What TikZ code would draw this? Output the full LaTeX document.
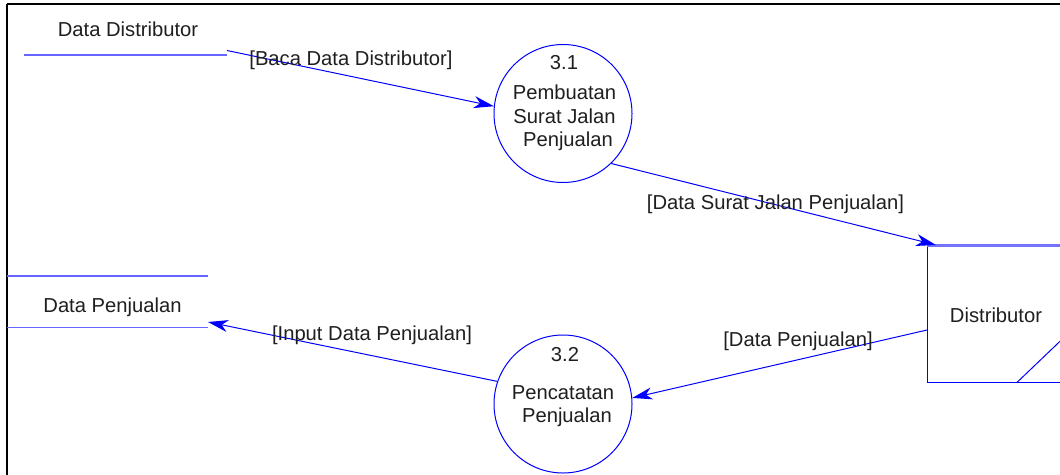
\documentclass[tikz,border=0pt]{standalone}
\usepackage{fontspec}
\setmainfont{Liberation Sans}
\usetikzlibrary{arrows.meta,calc}

\begin{document}
\begin{tikzpicture}[x=1pt,y=-1pt,
  txt/.style={font=\fontsize{20.2}{24}\selectfont, inner sep=0pt, text=black!88, anchor=base},
  flow/.style={draw=blue, line width=1pt, -{Stealth[length=20pt,width=12pt,inset=6pt]}},
  proc/.style={circle, draw=blue, line width=1pt, minimum size=138pt, inner sep=0pt},
  storeline/.style={draw=blue!60, line width=1.5pt},
  entity/.style={draw=none, minimum width=173pt, minimum height=137pt, inner sep=0pt, anchor=north west},
  frameline/.style={draw=black, line width=1.7pt}]
\useasboundingbox (0,0) rectangle (1060,474);
\clip (0,0) rectangle (1060,474);
\fill[white] (0,0) rectangle (1060,474);

% page frame (top and left edges)
\draw[frameline] (7,4.2) -- (1062,4.2);
\draw[frameline] (6.8,4.2) -- (6.8,476);

% data store: Data Distributor
\node[txt] (dsDist) at (128,36.5) {Data Distributor};
\coordinate (dsDistL) at (24,55);
\coordinate (dsDistR) at (227,55);
\draw[storeline] (dsDistL) -- (dsDistR);
\coordinate (dsDistOut) at (227,50.5);

% data store: Data Penjualan
\node[txt] (dsJual) at (112.5,312) {Data Penjualan};
\coordinate (dsJualTL) at (7,276);
\coordinate (dsJualTR) at (208,276);
\coordinate (dsJualBL) at (7,327.5);
\coordinate (dsJualBR) at (208,327.5);
\draw[storeline] (dsJualTL) -- (dsJualTR);
\draw[storeline] (dsJualBL) -- (dsJualBR);
\coordinate (dsJualIn) at (208,322);

% process 3.1
\node[proc] (p31) at (563,113.5) {};
\node[txt] (p31n) at (564,69) {3.1};
\node[txt] (p31a) at (564.5,99) {Pembuatan};
\node[txt] (p31b) at (564.5,123) {Surat Jalan};
\node[txt] (p31c) at (568,146) {Penjualan};

% process 3.2
\node[proc] (p32) at (563,404) {};
\node[txt] (p32n) at (565,361) {3.2};
\node[txt] (p32a) at (563,399) {Pencatatan};
\node[txt] (p32b) at (567,422) {Penjualan};

% external entity: Distributor
\node[entity] (dist) at (927,245) {};
\draw[draw=blue, line width=1pt] (dist.north west) -- (dist.south west) -- (dist.south east);
\draw[draw=blue!55, line width=3pt] (dist.north west) -- (dist.north east);
\draw[draw=blue, line width=1pt] ($(dist.south west)+(90,0)$) -- ($(dist.south west)+(147,-54.5)$);
\node[txt] (distLbl) at (996,322.5) {Distributor};

% data flows
\draw[flow] (dsDistOut) -- (p31.174.6);
\node[txt] (f1) at (351,65) {[Baca Data Distributor]};

\draw[flow] (p31.314.7) -- ($(dist.north west)+(9,0)$);
\node[txt] (f2) at (775.5,209) {[Data Surat Jalan Penjualan]};

\draw[flow] ($(dist.north west)+(0,85)$) -- (p32.5.8);
\node[txt] (f3) at (798,346) {[Data Penjualan]};

\draw[flow] (p32.161.4) -- (dsJualIn);
\node[txt] (f4) at (372,340.5) {[Input Data Penjualan]};
\end{tikzpicture}
\end{document}
